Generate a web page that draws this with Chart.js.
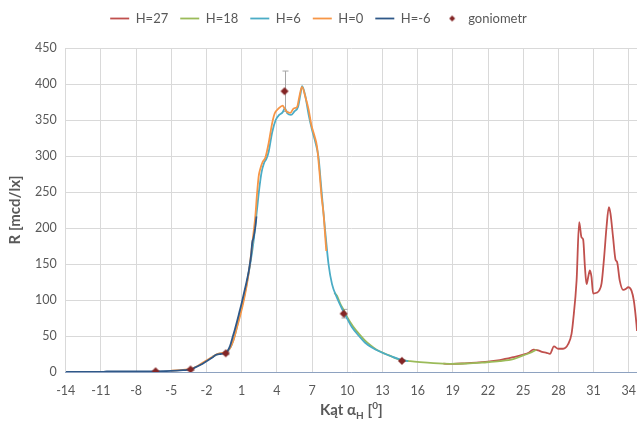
<!DOCTYPE html>
<html>
<head>
<meta charset="utf-8">
<script src="https://cdn.jsdelivr.net/npm/chart.js@4.4.1/dist/chart.umd.min.js"></script>
<style>
  html, body { margin: 0; padding: 0; background: #fff; }
  #wrap { width: 637px; height: 425px; }
</style>
</head>
<body>
<div id="wrap"><canvas id="chart"></canvas></div>
<script>
const xTicks = [-14, -11, -8, -5, -2, 1, 4, 7, 10, 13, 16, 19, 22, 25, 28, 31, 34];
const yTicks = [0, 50, 100, 150, 200, 250, 300, 350, 400, 450];

const seriesNames = ['H=27', 'H=18', 'H=6', 'H=0', 'H=-6', 'goniometr'];

const h27X = [18.2, 19, 20, 21, 22, 23, 24.15, 25, 25.5, 25.86, 26.28, 26.6, 27.0, 27.28, 27.62, 27.98, 28.4, 28.84, 29.12, 29.26, 29.55, 29.77, 29.97, 30.11, 30.26, 30.4, 30.54, 30.68, 30.82, 30.96, 31.25, 31.47, 31.68, 31.9, 32.1, 32.3, 32.44, 32.66, 32.87, 33.0, 33.23, 33.52, 33.8, 33.94, 34.23, 34.43, 34.65, 34.7];
const h27Y = [11.5, 11.3, 12, 13, 14.5, 16.5, 20.5, 24, 27, 31, 30, 28, 26.7, 25.3, 35.5, 32.3, 32.3, 39, 53, 72, 127, 208, 187, 184, 146, 122, 132, 141, 132, 109, 110, 113, 123, 160, 201, 229, 220, 187, 156, 153, 127, 114, 116, 118, 113, 99, 67, 57];

const h18X = [8.9, 9.12, 9.4, 9.7, 10, 10.5, 11, 11.5, 12, 12.5, 13, 13.5, 14, 14.5, 15.36, 16.2, 17.35, 18.77, 20.19, 21.6, 23, 24.15, 25, 25.72, 26.14];
const h18Y = [110, 106, 95, 86, 76, 63, 53, 44, 37, 31, 27, 23.5, 20, 17, 15, 13.6, 12.2, 11.4, 11.8, 13.2, 15, 17.8, 23, 27.5, 31];

const h6X = [-1.5, -1.0, -0.5, 0, 0.4, 0.8, 1.2, 1.6, 2.0, 2.3, 2.5, 2.7, 2.9, 3.1, 3.3, 3.6, 3.9, 4.2, 4.5, 4.68, 4.9, 5.2, 5.5, 5.8, 6.0, 6.15, 6.4, 6.7, 7.0, 7.3, 7.55, 7.75, 7.95, 8.15, 8.4, 8.7, 9.1, 9.55, 10.0, 10.4, 11.0, 11.5, 12.1, 12.9, 13.8, 14.7, 15.2];
const h6Y = [21, 25, 27, 33, 50, 77, 104, 138, 180, 225, 255, 278, 290, 296, 306, 333, 350, 357, 361, 366, 359, 357, 362, 368, 385, 397, 385, 358, 336, 318, 298, 262, 225, 190, 150, 122, 104, 88, 74, 62, 50, 41, 34, 27.5, 21.5, 16.5, 15];

const h0X = [-5, -4, -3.3, -2.8, -2.3, -1.8, -1.3, -0.9, -0.4, 0, 0.3, 0.6, 0.9, 1.2, 1.45, 1.7, 1.95, 2.17, 2.31, 2.45, 2.6, 2.79, 3.02, 3.3, 3.59, 3.81, 4.15, 4.49, 4.66, 4.87, 5.15, 5.43, 5.72, 5.91, 6.14, 6.43, 6.71, 6.94, 7.22, 7.42, 7.62, 7.8, 7.98, 8.13, 8.21];
const h0Y = [2, 3, 4.5, 8, 13, 18, 23, 26, 27, 33, 44, 62, 80, 101, 122, 150, 185, 218, 248, 272, 283, 292, 298, 318, 345, 359, 366, 370, 366, 361, 360, 366, 368, 382, 396, 382, 364, 343, 327, 313, 280, 245, 219, 186, 168];

const hm6X = [-14, -10.8, -10.5, -8, -6.34, -5, -4, -3.36, -3, -2.5, -2, -1.5, -1.2, -0.8, -0.38, 0, 0.2, 0.4, 0.6, 0.8, 1.0, 1.2, 1.4, 1.6, 1.8, 1.9, 2.0, 2.15, 2.26];
const hm6Y = [0, 0, 1, 1, 1, 1.5, 2.5, 3.5, 6, 10, 15, 20, 24, 25, 26, 36, 47, 58, 70, 83, 96, 110, 124, 140, 162, 180, 186, 200, 216];

const gonioX = [-6.34, -3.36, -0.36, 4.65, 9.69, 14.66];
const gonioY = [1, 3.5, 26, 390, 81, 15.5];
const gonioErr = [0, 1, 2, 28, 6, 1];

const grey = '#595959';
const pts = (xs, ys) => xs.map((x, i) => ({ x, y: ys[i] }));

function diamond(r, color) {
  const c = document.createElement('canvas');
  c.width = c.height = 2 * r + 2;
  const g = c.getContext('2d');
  g.fillStyle = color;
  g.beginPath();
  g.moveTo(r + 1, 1); g.lineTo(2 * r + 1, r + 1); g.lineTo(r + 1, 2 * r + 1); g.lineTo(1, r + 1);
  g.closePath(); g.fill();
  return c;
}
const gonioColor = '#832525';
const bigDiamond = diamond(4, gonioColor);
const smallDiamond = diamond(3, gonioColor);

function line(label, xs, ys, color, order) {
  return {
    label, data: pts(xs, ys), borderColor: color, backgroundColor: color,
    borderWidth: 1.8, pointRadius: 0, pointStyle: 'line', order,
    cubicInterpolationMode: 'monotone'
  };
}

const errBars = {
  id: 'errBars',
  beforeDatasetsDraw(chart) {
    const { ctx, scales: { x, y } } = chart;
    ctx.save();
    ctx.strokeStyle = '#A6A6A6';
    ctx.lineWidth = 1;
    gonioX.forEach((v, i) => {
      const e = gonioErr[i];
      if (!e) return;
      const px = Math.round(x.getPixelForValue(v)) + 0.5;
      const top = y.getPixelForValue(gonioY[i] + e);
      const bot = y.getPixelForValue(gonioY[i] - e);
      ctx.beginPath();
      ctx.moveTo(px, top); ctx.lineTo(px, bot);
      ctx.moveTo(px - 3, top); ctx.lineTo(px + 3, top);
      ctx.moveTo(px - 3, bot); ctx.lineTo(px + 3, bot);
      ctx.stroke();
    });
    ctx.restore();
  }
};

// x axis title with subscript H and superscript 0
const xTitle = {
  id: 'xTitle',
  afterDraw(chart) {
    const { ctx, chartArea } = chart;
    const big = 'bold 15px Lato', small = 'bold 10px Lato';
    const parts = [['Kąt α', big, 0], ['H', small, 4], [' [', big, 0], ['0', small, -6], [']', big, 0]];
    ctx.save();
    let w = 0;
    parts.forEach(p => { ctx.font = p[1]; w += ctx.measureText(p[0]).width; });
    let x = (chartArea.left + chartArea.right) / 2 - w / 2;
    const y = chart.height - 10;
    ctx.fillStyle = grey;
    ctx.textBaseline = 'alphabetic';
    parts.forEach(p => {
      ctx.font = p[1];
      ctx.fillText(p[0], x, y + p[2]);
      x += ctx.measureText(p[0]).width;
    });
    ctx.restore();
  }
};

const legendGap = {
  id: 'legendGap',
  beforeInit(chart) {
    const fit = chart.legend.fit;
    chart.legend.fit = function () { fit.call(this); this.height += 13; };
  }
};

Chart.defaults.font.family = 'Lato';
Chart.defaults.color = grey;

new Chart(document.getElementById('chart'), {
  type: 'line',
  data: {
    datasets: [
      line(seriesNames[0], h27X, h27Y, '#C0504D', 6),
      line(seriesNames[1], h18X, h18Y, '#9BBB59', 5),
      line(seriesNames[2], h6X, h6Y, '#4BACC6', 4),
      line(seriesNames[3], h0X, h0Y, '#F79646', 3),
      line(seriesNames[4], hm6X, hm6Y, '#2F5888', 2),
      {
        label: seriesNames[5], data: pts(gonioX, gonioY), showLine: false,
        pointStyle: bigDiamond, pointRadius: 4, borderColor: gonioColor,
        backgroundColor: gonioColor, order: 1
      }
    ]
  },
  options: {
    responsive: true,
    maintainAspectRatio: false,
    animation: false,
    devicePixelRatio: 1,
    layout: { autoPadding: false, padding: { left: 0, right: 0, top: 0, bottom: 16 } },
    plugins: {
      tooltip: { enabled: false },
      legend: {
        position: 'top',
        labels: {
          color: grey, font: { size: 13 }, usePointStyle: true,
          pointStyleWidth: 19, boxHeight: 8, padding: 12,
          generateLabels(chart) {
            const items = Chart.defaults.plugins.legend.labels.generateLabels(chart);
            items.forEach(it => { if (it.text === 'goniometr') it.pointStyle = smallDiamond; });
            return items.sort((a, b) => a.datasetIndex - b.datasetIndex);
          }
        }
      }
    },
    scales: {
      x: {
        type: 'linear', min: -14, max: 34.7,
        afterBuildTicks: s => { s.ticks = xTicks.map(v => ({ value: v })); },
        afterFit: s => { s.paddingRight = 0; },
        grid: { color: '#D9D9D9', drawTicks: false },
        border: { color: '#8EA2C0', width: 1, z: 1 },
        ticks: { color: grey, font: { size: 12.5 }, padding: 11, maxRotation: 0, autoSkip: false }
      },
      y: {
        type: 'linear', min: 0, max: 450,
        afterBuildTicks: s => { s.ticks = yTicks.map(v => ({ value: v })); },
        grid: { color: '#D9D9D9', drawTicks: false },
        border: { display: false },
        ticks: { color: grey, font: { size: 12.5 }, padding: 9 },
        title: { display: true, text: 'R [mcd/lx]', color: grey, font: { size: 15, weight: 'bold' }, padding: { top: 6, bottom: 2 } }
      }
    }
  },
  plugins: [errBars, xTitle, legendGap]
});
</script>
</body>
</html>
